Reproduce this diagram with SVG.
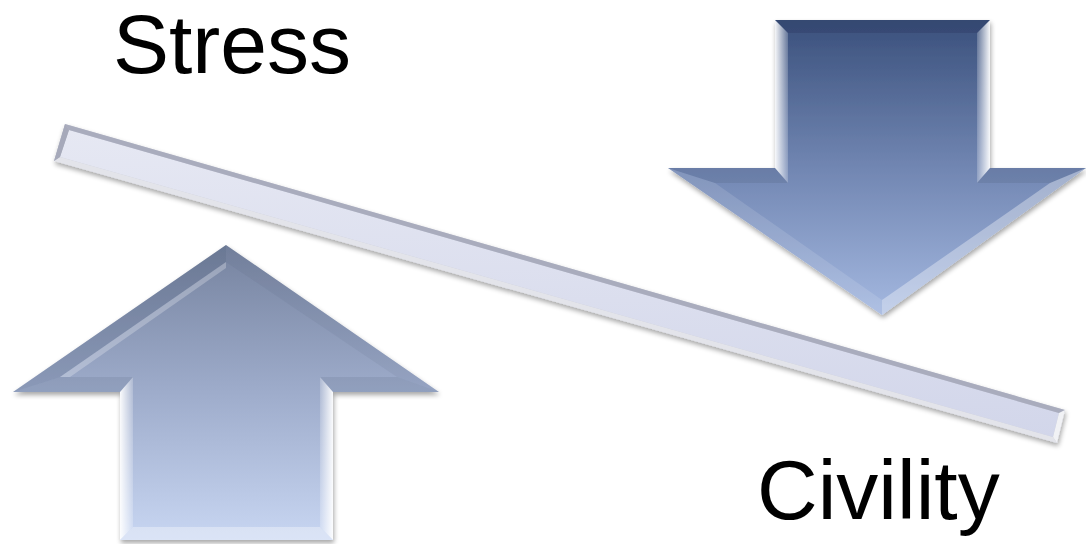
<svg xmlns="http://www.w3.org/2000/svg" width="1086" height="544" viewBox="0 0 1086 544">
<style>
.lbl{font-family:"Liberation Sans",Arial,sans-serif;font-size:84px;fill:#000}
.hl{fill:#ffffff}
.dk{fill:#3a4766}
</style>
<defs>
<linearGradient id="gUp" x1="0" y1="245" x2="0" y2="540" gradientUnits="userSpaceOnUse">
<stop offset="0" stop-color="#76839f"/>
<stop offset="0.5" stop-color="#9eaccb"/>
<stop offset="1" stop-color="#c8d6f2"/>
</linearGradient>
<linearGradient id="gDn" x1="0" y1="20" x2="0" y2="315" gradientUnits="userSpaceOnUse">
<stop offset="0" stop-color="#3a507c"/>
<stop offset="0.5" stop-color="#7186b2"/>
<stop offset="1" stop-color="#a4b8e0"/>
</linearGradient>
<linearGradient id="gBar" x1="0" y1="0" x2="0" y2="1">
<stop offset="0" stop-color="#e6e8f3"/>
<stop offset="1" stop-color="#d2d6ea"/>
</linearGradient>
<linearGradient id="gSide" x1="0" y1="0" x2="1" y2="0">
<stop offset="0" stop-color="#ffffff" stop-opacity="0.2"/>
<stop offset="1" stop-color="#ffffff" stop-opacity="0.95"/>
</linearGradient>
<linearGradient id="gSideR" x1="1" y1="0" x2="0" y2="0">
<stop offset="0" stop-color="#ffffff" stop-opacity="0.2"/>
<stop offset="1" stop-color="#ffffff" stop-opacity="0.95"/>
</linearGradient>
<filter id="sh" x="-10%" y="-10%" width="120%" height="120%">
<feGaussianBlur in="SourceAlpha" stdDeviation="2.5"/>
<feOffset dx="1" dy="3" result="b"/>
<feComponentTransfer><feFuncA type="linear" slope="0.35"/></feComponentTransfer>
<feMerge><feMergeNode/><feMergeNode in="SourceGraphic"/></feMerge>
</filter>
</defs>

<g id="bar" filter="url(#sh)">
<polygon points="65,124 1065,410 1057,443 54,161" fill="#b9bccb"/>
<polygon points="69,130 1059,413 1053,437 60,157" fill="url(#gBar)"/>
<polygon points="65,124 1065,410 1059,413 69,130" fill="#9fa2b4" opacity="0.6"/>
<polygon points="1065,410 1057,443 1053,437 1059,413" fill="#ffffff" opacity="0.8"/>
<polygon points="54,161 1057,443 1053,437 60,157" fill="#ffffff" opacity="0.6"/>
<polygon points="65,124 54,161 60,157 69,130" fill="#a6a9ba"/>
</g>

<g id="arrow-up" filter="url(#sh)">
<polygon points="226,245 439,392 333,392 333,540 120,540 120,392 13,392" fill="url(#gUp)"/>
<polygon points="226,245 13,392 60,377 226,262" class="dk" opacity="0.18"/>
<polygon points="226,245 226,262 397,377 439,392" class="dk" opacity="0.08"/>
<polygon points="60,377 226,262 226,268 70,377" fill="#ffffff" opacity="0.25"/>
<polygon points="120,392 133,377 133,527 120,540" fill="url(#gSideR)"/>
<polygon points="333,392 320,377 320,527 333,540" fill="url(#gSide)"/>
<polygon points="120,540 133,527 320,527 333,540" fill="#ffffff" opacity="0.35"/>
<polygon points="13,392 60,377 133,377 120,392" class="dk" opacity="0.12"/>
<polygon points="439,392 397,377 320,377 333,392" class="dk" opacity="0.12"/>
</g>

<g id="arrow-down" filter="url(#sh)">
<polygon points="775,20 990,20 990,168 1086,168 882,315 668,168 775,168" fill="url(#gDn)"/>
<polygon points="775,20 990,20 977,33 788,33" fill="#2a3a5e" opacity="0.35"/>
<polygon points="775,20 788,33 788,183 775,168" fill="url(#gSideR)"/>
<polygon points="990,20 977,33 977,183 990,168" fill="url(#gSide)"/>
<polygon points="668,168 775,168 788,183 715,183" class="dk" opacity="0.15"/>
<polygon points="1086,168 990,168 977,183 1050,183" class="dk" opacity="0.15"/>
<polygon points="668,168 715,183 882,300 882,315" fill="#ffffff" opacity="0.12"/>
<polygon points="1086,168 1050,183 882,300 882,315" fill="#ffffff" opacity="0.35"/>
</g>

<g id="labels">
<text class="lbl" x="113" y="73">Stress</text>
<text class="lbl" x="757" y="519">Civility</text>
</g>
</svg>
